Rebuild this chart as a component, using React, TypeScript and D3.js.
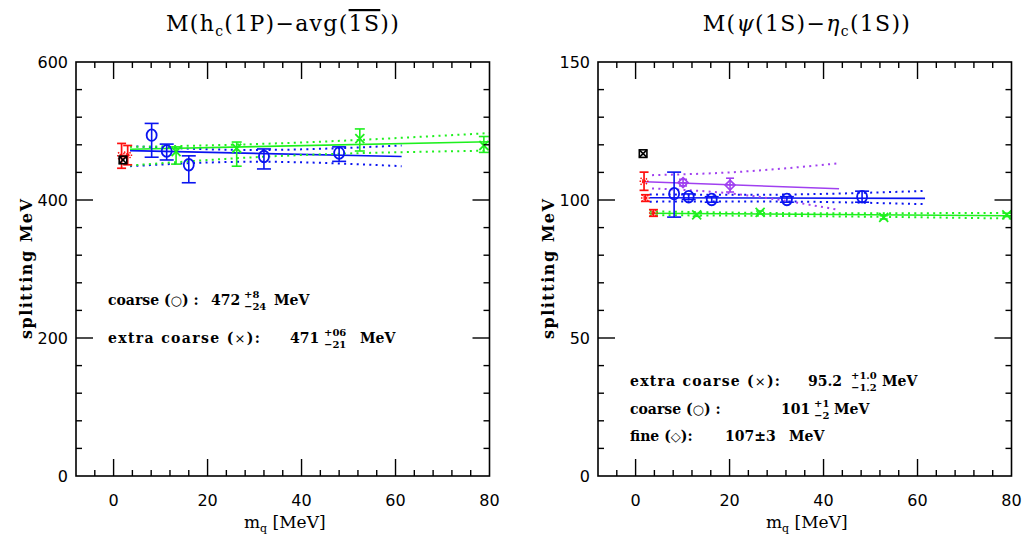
import React from 'react';
import * as d3 from 'd3';

// ---------- Left panel: M(hc(1P) - avg(1S)) ----------
const hcCoarseX = [8.1, 11.3, 16.0, 32.0, 48.0];
const hcCoarseY = [494, 471, 451, 463, 468];
const hcCoarseUp = [17, 10, 13, 11, 9];
const hcCoarseDn = [32, 13, 26, 18, 12];

const hcXcX = [13.3, 26.2, 52.4, 78.8];
const hcXcY = [470, 475, 489, 479];
const hcXcUp = [7, 9, 14, 13];
const hcXcDn = [18, 26, 18, 10];

const hcRedX = [1.7, 3.0];
const hcRedY = [464, 465];
const hcRedErr = [18, 14];

const hcBlackX = [2.0];
const hcBlackY = [458];

const hcCoarseFitX = [3.5, 61.3];
const hcCoarseFitY = [471.5, 463];
const hcCoarseBandX = [3.5, 30, 61.3];
const hcCoarseBandHi = [478, 472.5, 479];
const hcCoarseBandLo = [449, 455.5, 449];

const hcXcFitX = [3.5, 80];
const hcXcFitY = [473.5, 484.5];
const hcXcBandX = [3.5, 30, 80];
const hcXcBandHi = [477, 481, 497];
const hcXcBandLo = [450, 462, 471.5];

// ---------- Right panel: M(psi(1S) - eta_c(1S)) ----------
const hfCoarseX = [8.2, 11.3, 16.2, 32.2, 48.2];
const hfCoarseY = [102.3, 101.2, 100.2, 100.2, 101.2];
const hfCoarseUp = [7.8, 1.0, 1.0, 1.0, 2.0];
const hfCoarseDn = [8.5, 1.0, 1.0, 1.0, 2.0];

const hfXcX = [13.0, 26.5, 52.8, 79.0];
const hfXcY = [94.6, 95.5, 93.7, 94.6];
const hfXcErr = [0.5, 0.5, 0.6, 0.6];

const hfFineX = [10.1, 20.1];
const hfFineY = [106.3, 105.4];
const hfFineErr = [1.2, 2.5];

const hfRedX = [1.8, 2.1, 3.8];
const hfRedY = [106.8, 100.7, 95.3];
const hfRedErr = [3.3, 1.2, 1.2];

const hfBlackX = [1.6];
const hfBlackY = [116.8];

const hfFineFitX = [2, 43.3];
const hfFineFitY = [106.6, 104.1];
const hfFineBandX = [3.5, 20, 43.3];
const hfFineBandHi = [109, 110, 113.3];
const hfFineBandLo = [104.2, 102.4, 96.4];

const hfCoarseFitX = [3, 61.6];
const hfCoarseFitY = [100.8, 100.6];
const hfCoarseBandX = [3, 25, 61.6];
const hfCoarseBandHi = [102, 101.9, 103.3];
const hfCoarseBandLo = [99.4, 99.5, 98.5];

const hfXcFitX = [3, 80];
const hfXcFitY = [95.2, 94.3];
const hfXcBandX = [3, 40, 80];
const hfXcBandHi = [95.9, 95.2, 95.3];
const hfXcBandLo = [94.5, 94.1, 93.3];

// axis settings
const xDomain = [-8, 80];
const xMajor = [0, 20, 40, 60, 80];
const leftYDomain = [0, 600];
const leftYMajor = [0, 200, 400, 600];
const rightYDomain = [0, 150];
const rightYMajor = [0, 50, 100, 150];

const BLUE = '#0a14f0';
const GREEN = '#1ef01e';
const RED = '#ff1010';
const PURPLE = '#a040f0';

const SERIF = '"DejaVu Serif", serif';
const SANS = '"DejaVu Sans", sans-serif';

type Scale = d3.ScaleLinear<number, number>;

function line(xs: number[], ys: number[], sx: Scale, sy: Scale) {
  const g = d3.line<number>().x((_, i) => sx(xs[i])).y((d) => sy(d));
  return g(ys) || '';
}
function curve(xs: number[], ys: number[], sx: Scale, sy: Scale) {
  const g = d3.line<number>().x((_, i) => sx(xs[i])).y((d) => sy(d)).curve(d3.curveMonotoneX);
  return g(ys) || '';
}

function ErrBar({ x, lo, hi, cap, color, w = 1.6 }: any) {
  return (
    <g stroke={color} strokeWidth={w} fill="none">
      <line x1={x} x2={x} y1={lo} y2={hi} />
      <line x1={x - cap} x2={x + cap} y1={lo} y2={lo} />
      <line x1={x - cap} x2={x + cap} y1={hi} y2={hi} />
    </g>
  );
}

function Panel({ x0, x1, yDomain, yMajor, yMinorStep, children }: any) {
  const sx = d3.scaleLinear().domain(xDomain).range([x0, x1]);
  const sy = d3.scaleLinear().domain(yDomain).range([476, 62]);
  const xMinor = d3.range(-4, 80, 4).filter((v) => v % 20 !== 0);
  const yMinor = d3.range(yDomain[0] + yMinorStep, yDomain[1], yMinorStep).filter(
    (v) => !yMajor.includes(v)
  );
  const M = 17, m = 6;
  const yT = sy.range()[1], yB = sy.range()[0];
  return (
    <g>
      {children(sx, sy)}
      <rect x={x0} y={yT} width={x1 - x0} height={yB - yT} fill="none" stroke="#000" strokeWidth={1.6} />
      <g stroke="#000" strokeWidth={1.4}>
        {xMajor.filter((v) => v > xDomain[0] && v < xDomain[1]).map((v) => (
          <g key={'xM' + v}>
            <line x1={sx(v)} x2={sx(v)} y1={yB} y2={yB - M} />
            <line x1={sx(v)} x2={sx(v)} y1={yT} y2={yT + M} />
          </g>
        ))}
        {xMinor.map((v) => (
          <g key={'xm' + v}>
            <line x1={sx(v)} x2={sx(v)} y1={yB} y2={yB - m} />
            <line x1={sx(v)} x2={sx(v)} y1={yT} y2={yT + m} />
          </g>
        ))}
        {yMajor.filter((v: number) => v > yDomain[0] && v < yDomain[1]).map((v: number) => (
          <g key={'yM' + v}>
            <line x1={x0} x2={x0 + M} y1={sy(v)} y2={sy(v)} />
            <line x1={x1} x2={x1 - M} y1={sy(v)} y2={sy(v)} />
          </g>
        ))}
        {yMinor.map((v: number) => (
          <g key={'ym' + v}>
            <line x1={x0} x2={x0 + m} y1={sy(v)} y2={sy(v)} />
            <line x1={x1} x2={x1 - m} y1={sy(v)} y2={sy(v)} />
          </g>
        ))}
      </g>
      <g fontFamily={SANS} fontSize={16} fill="#000">
        {xMajor.map((v) => (
          <text key={'xl' + v} x={sx(v)} y={506} textAnchor="middle">{v}</text>
        ))}
        {yMajor.map((v: number) => (
          <text key={'yl' + v} x={x0 - 8} y={sy(v) + 6} textAnchor="end">{v}</text>
        ))}
      </g>
      <text x={(x0 + x1) / 2 + 2} y={528} textAnchor="middle" fontFamily={SERIF} fontSize={17}>
        m<tspan fontSize={11} dy={4}>q</tspan>
        <tspan dy={-4}> [MeV]</tspan>
      </text>
      <text
        transform={`translate(${x0 - 44},${(yT + yB) / 2}) rotate(-90)`}
        textAnchor="middle"
        fontFamily={SERIF}
        fontSize={16}
        fontWeight="bold"
        textLength={140}
        lengthAdjust="spacing"
      >
        splitting MeV
      </text>
    </g>
  );
}

function Circles({ xs, ys, up, dn, sx, sy, color }: any) {
  return (
    <g>
      {xs.map((x: number, i: number) => (
        <g key={i}>
          <ErrBar x={sx(x)} lo={sy(ys[i] - dn[i])} hi={sy(ys[i] + up[i])} cap={7} color={color} />
          <ellipse cx={sx(x)} cy={sy(ys[i])} rx={5} ry={5.8} fill="none" stroke={color} strokeWidth={1.8} />
        </g>
      ))}
    </g>
  );
}
function Crosses({ xs, ys, up, dn, sx, sy, color, cap = 5 }: any) {
  return (
    <g>
      {xs.map((x: number, i: number) => {
        const cx = sx(x), cy = sy(ys[i]);
        const s = 4.5;
        return (
          <g key={i}>
            <ErrBar x={cx} lo={sy(ys[i] - dn[i])} hi={sy(ys[i] + up[i])} cap={cap} color={color} />
            <g stroke={color} strokeWidth={1.8}>
              <line x1={cx - s} x2={cx + s} y1={cy - s} y2={cy + s} />
              <line x1={cx - s} x2={cx + s} y1={cy + s} y2={cy - s} />
            </g>
          </g>
        );
      })}
    </g>
  );
}
function Diamonds({ xs, ys, err, sx, sy, color }: any) {
  return (
    <g>
      {xs.map((x: number, i: number) => {
        const cx = sx(x), cy = sy(ys[i]);
        const s = 5;
        return (
          <g key={i}>
            <ErrBar x={cx} lo={sy(ys[i] - err[i])} hi={sy(ys[i] + err[i])} cap={4} color={color} />
            <path
              d={`M${cx},${cy - s}L${cx + s},${cy}L${cx},${cy + s}L${cx - s},${cy}Z`}
              fill="none"
              stroke={color}
              strokeWidth={1.6}
            />
            <line x1={cx - s} x2={cx + s} y1={cy} y2={cy} stroke={color} strokeWidth={1.2} />
          </g>
        );
      })}
    </g>
  );
}
function RedStars({ xs, ys, err, sx, sy }: any) {
  return (
    <g>
      {xs.map((x: number, i: number) => {
        const cx = sx(x), cy = sy(ys[i]);
        const s = 3.5;
        return (
          <g key={i}>
            <ErrBar x={cx} lo={sy(ys[i] - err[i])} hi={sy(ys[i] + err[i])} cap={4.5} color={RED} w={1.7} />
            <g stroke={RED} strokeWidth={1.5} strokeDasharray="1.5 1">
              <line x1={cx - s} x2={cx + s} y1={cy - s} y2={cy + s} />
              <line x1={cx - s} x2={cx + s} y1={cy + s} y2={cy - s} />
              <line x1={cx - s - 1} x2={cx + s + 1} y1={cy} y2={cy} />
            </g>
          </g>
        );
      })}
    </g>
  );
}
function BlackMark({ xs, ys, sx, sy }: any) {
  return (
    <g>
      {xs.map((x: number, i: number) => {
        const cx = sx(x), cy = sy(ys[i]);
        const s = 3.8;
        return (
          <g key={i} stroke="#000" strokeWidth={1.6} fill="none">
            <rect x={cx - s} y={cy - s} width={2 * s} height={2 * s} />
            <line x1={cx - s} x2={cx + s} y1={cy - s} y2={cy + s} />
            <line x1={cx - s} x2={cx + s} y1={cy + s} y2={cy - s} />
          </g>
        );
      })}
    </g>
  );
}
function Fit({ fx, fy, bx, hi, lo, sx, sy, color }: any) {
  return (
    <g fill="none" stroke={color}>
      <path d={line(fx, fy, sx, sy)} strokeWidth={1.6} />
      <path d={curve(bx, hi, sx, sy)} strokeWidth={2} strokeDasharray="2 4.3" />
      <path d={curve(bx, lo, sx, sy)} strokeWidth={2} strokeDasharray="2 4.3" />
    </g>
  );
}

// one annotation line: label (with marker symbol), value with +up/-dn, unit
function Note({ y, pre, sym, post, labelX, labelW, base, baseX, up, dn, supX, unit, unitX }: any) {
  const lenProps = labelW ? { textLength: labelW, lengthAdjust: 'spacing' } : {};
  return (
    <g>
      <text x={labelX} y={y} {...lenProps}>
        {pre}
        <tspan fontSize={13} fontWeight="normal">{sym}</tspan>
        {post}
      </text>
      <text x={baseX} y={y}>{base}</text>
      {up && <text x={supX} y={y - 7.5} fontSize={10}>{up}</text>}
      {dn && <text x={supX} y={y + 4.5} fontSize={10}>{dn}</text>}
      <text x={unitX} y={y}>{unit}</text>
    </g>
  );
}

export default function App() {
  return (
    <svg
      width={1025}
      height={537}
      style={{ position: 'absolute', left: 0, top: 0, background: '#fff' }}
    >
      <rect width={1025} height={537} fill="#fff" />
      {/* Titles */}
      <text x={283} y={31} textAnchor="middle" fontFamily={SERIF} fontSize={22} letterSpacing={1.3}>
        M(h<tspan fontSize={14} dy={5}>c</tspan>
        <tspan dy={-5}>(1P)−avg(</tspan>
        <tspan textDecoration="overline">1S</tspan>
        <tspan>))</tspan>
      </text>
      <text x={807} y={31} textAnchor="middle" fontFamily={SERIF} fontSize={22} letterSpacing={1.3}>
        M(<tspan fontStyle="italic">ψ</tspan>(1S)−<tspan fontStyle="italic">η</tspan>
        <tspan fontSize={14} dy={5}>c</tspan>
        <tspan dy={-5}>(1S))</tspan>
      </text>

      <Panel x0={76} x1={489.5} yDomain={leftYDomain} yMajor={leftYMajor} yMinorStep={40}>
        {(sx: Scale, sy: Scale) => (
          <g>
            <Fit fx={hcCoarseFitX} fy={hcCoarseFitY} bx={hcCoarseBandX} hi={hcCoarseBandHi} lo={hcCoarseBandLo} sx={sx} sy={sy} color={BLUE} />
            <Fit fx={hcXcFitX} fy={hcXcFitY} bx={hcXcBandX} hi={hcXcBandHi} lo={hcXcBandLo} sx={sx} sy={sy} color={GREEN} />
            <RedStars xs={hcRedX} ys={hcRedY} err={hcRedErr} sx={sx} sy={sy} />
            <BlackMark xs={hcBlackX} ys={hcBlackY} sx={sx} sy={sy} />
            <Circles xs={hcCoarseX} ys={hcCoarseY} up={hcCoarseUp} dn={hcCoarseDn} sx={sx} sy={sy} color={BLUE} />
            <Crosses xs={hcXcX} ys={hcXcY} up={hcXcUp} dn={hcXcDn} sx={sx} sy={sy} color={GREEN} />
          </g>
        )}
      </Panel>

      <Panel x0={598} x1={1011.5} yDomain={rightYDomain} yMajor={rightYMajor} yMinorStep={10}>
        {(sx: Scale, sy: Scale) => (
          <g>
            <Fit fx={hfXcFitX} fy={hfXcFitY} bx={hfXcBandX} hi={hfXcBandHi} lo={hfXcBandLo} sx={sx} sy={sy} color={GREEN} />
            <Fit fx={hfCoarseFitX} fy={hfCoarseFitY} bx={hfCoarseBandX} hi={hfCoarseBandHi} lo={hfCoarseBandLo} sx={sx} sy={sy} color={BLUE} />
            <Fit fx={hfFineFitX} fy={hfFineFitY} bx={hfFineBandX} hi={hfFineBandHi} lo={hfFineBandLo} sx={sx} sy={sy} color={PURPLE} />
            <RedStars xs={hfRedX} ys={hfRedY} err={hfRedErr} sx={sx} sy={sy} />
            <BlackMark xs={hfBlackX} ys={hfBlackY} sx={sx} sy={sy} />
            <Crosses xs={hfXcX} ys={hfXcY} up={hfXcErr} dn={hfXcErr} sx={sx} sy={sy} color={GREEN} cap={4} />
            <Circles xs={hfCoarseX} ys={hfCoarseY} up={hfCoarseUp} dn={hfCoarseDn} sx={sx} sy={sy} color={BLUE} />
            <Diamonds xs={hfFineX} ys={hfFineY} err={hfFineErr} sx={sx} sy={sy} color={PURPLE} />
          </g>
        )}
      </Panel>

      {/* Annotations */}
      <g fontFamily={SERIF} fontSize={14} fontWeight="bold" fill="#000">
        <Note y={305} pre="coarse (" sym="○" post=") :" labelX={108}
          base="472" baseX={211} up="+8" dn="−24" supX={244}
          unit="MeV" unitX={274} />
        <Note y={343} pre="extra coarse (" sym="×" post="):" labelX={108} labelW={152}
          base="471" baseX={290} up="+06" dn="−21" supX={324}
          unit="MeV" unitX={360} />

        <Note y={386} pre="extra coarse (" sym="×" post="):" labelX={630} labelW={150}
          base="95.2" baseX={808} up="+1.0" dn="−1.2" supX={851}
          unit="MeV" unitX={882} />
        <Note y={414} pre="coarse (" sym="○" post=") :" labelX={630}
          base="101" baseX={781} up="+1" dn="−2" supX={814}
          unit="MeV" unitX={834} />
        <Note y={441} pre="fine (" sym="◇" post="):" labelX={630}
          base="107±3" baseX={725} unit="MeV" unitX={789} />
      </g>
    </svg>
  );
}
